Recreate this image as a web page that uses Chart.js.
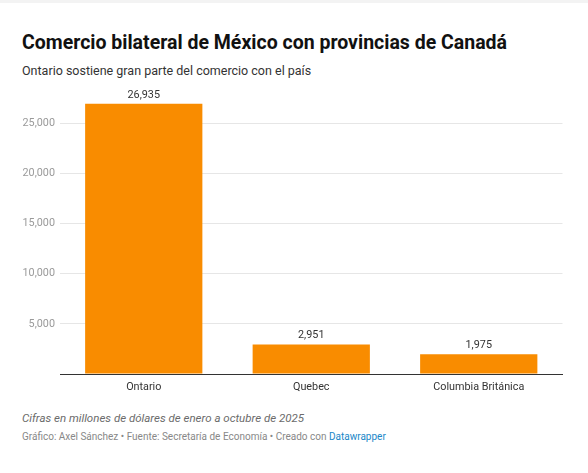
<!DOCTYPE html>
<html>
<head>
<meta charset="utf-8">
<script src="https://cdn.jsdelivr.net/npm/chart.js@4"></script>
<style>
  body { margin: 0; background: #fff; font-family: Roboto, sans-serif; width: 588px; height: 473px; overflow: hidden; position: relative; }
  .strip { position: absolute; left: 0; top: 0; width: 588px; height: 3px; background: #f3f3f3; }
  .txt { position: absolute; left: 22px; white-space: nowrap; }
  #title { top: 33px; font-size: 19.5px; line-height: 19.5px; font-weight: bold; color: #111; }
  #subtitle { top: 64.5px; font-size: 12.5px; line-height: 12.5px; color: #333; }
  #note { top: 412.5px; font-size: 11.5px; line-height: 11.5px; font-style: italic; color: #6b6b6b; }
  #credit { top: 431.5px; font-size: 10px; line-height: 10px; color: #888; }
  #credit a { color: #1a87c8; text-decoration: none; }
  #wrap { position: absolute; left: 0; top: 80px; width: 588px; height: 314px; }
</style>
</head>
<body>
<div class="strip"></div>
<div class="txt" id="title">Comercio bilateral de México con provincias de Canadá</div>
<div class="txt" id="subtitle">Ontario sostiene gran parte del comercio con el país</div>
<div id="wrap"><canvas id="myChart"></canvas></div>
<div class="txt" id="note">Cifras en millones de dólares de enero a octubre de 2025</div>
<div class="txt" id="credit">Gráfico: Axel Sánchez • Fuente: Secretaría de Economía • Creado con <a href="#">Datawrapper</a></div>
<script>
var provincias = ['Ontario', 'Quebec', 'Columbia Británica'];
var comercio = [26935, 2951, 1975];
var yTicks = [0, 5000, 10000, 15000, 20000, 25000];

// etiquetas de valor sobre cada barra
var valueLabels = {
    id: 'valueLabels',
    afterDatasetsDraw: function(chart) {
        var ctx = chart.ctx;
        var meta = chart.getDatasetMeta(0);
        ctx.save();
        ctx.font = '10.8px Roboto';
        ctx.fillStyle = '#333';
        ctx.textAlign = 'center';
        ctx.textBaseline = 'alphabetic';
        meta.data.forEach(function(bar, i) {
            ctx.fillText(comercio[i].toLocaleString('en-US'), bar.x, bar.y - 6);
        });
        ctx.restore();
    }
};

var ctx = document.getElementById('myChart').getContext('2d');
var myChart = new Chart(ctx, {
    type: 'bar',
    data: {
        labels: provincias,
        datasets: [{
            data: comercio,
            backgroundColor: '#f98c00',
            barPercentage: 0.7,
            categoryPercentage: 1
        }]
    },
    plugins: [valueLabels],
    options: {
        responsive: true,
        maintainAspectRatio: false,
        animation: { duration: 0 },
        layout: { padding: { top: 13, right: 25.5, left: 0, bottom: 0 } },
        plugins: {
            legend: { display: false },
            tooltip: { enabled: false }
        },
        scales: {
            x: {
                grid: { display: false, drawTicks: false },
                border: { color: '#333', width: 1 },
                ticks: { color: '#333', font: { family: 'Roboto', size: 10.8 }, padding: 7, maxRotation: 0 },
                afterFit: function(scale) { scale.height = 20; }
            },
            y: {
                min: 0,
                max: 28000,
                border: { display: false },
                grid: {
                    drawTicks: false,
                    color: function(c) { return (c.tick && c.tick.value > 0) ? '#e6e6e6' : 'rgba(0,0,0,0)'; }
                },
                ticks: {
                    padding: 5,
                    color: '#9a9a9a',
                    font: { family: 'Roboto', size: 10.8 },
                    callback: function(v) { return v > 0 ? v.toLocaleString('en-US') : ''; }
                },
                afterBuildTicks: function(scale) {
                    scale.ticks = yTicks.map(function(v) { return { value: v }; });
                },
                afterFit: function(scale) { scale.width = 60; }
            }
        }
    }
});
</script>
</body>
</html>
